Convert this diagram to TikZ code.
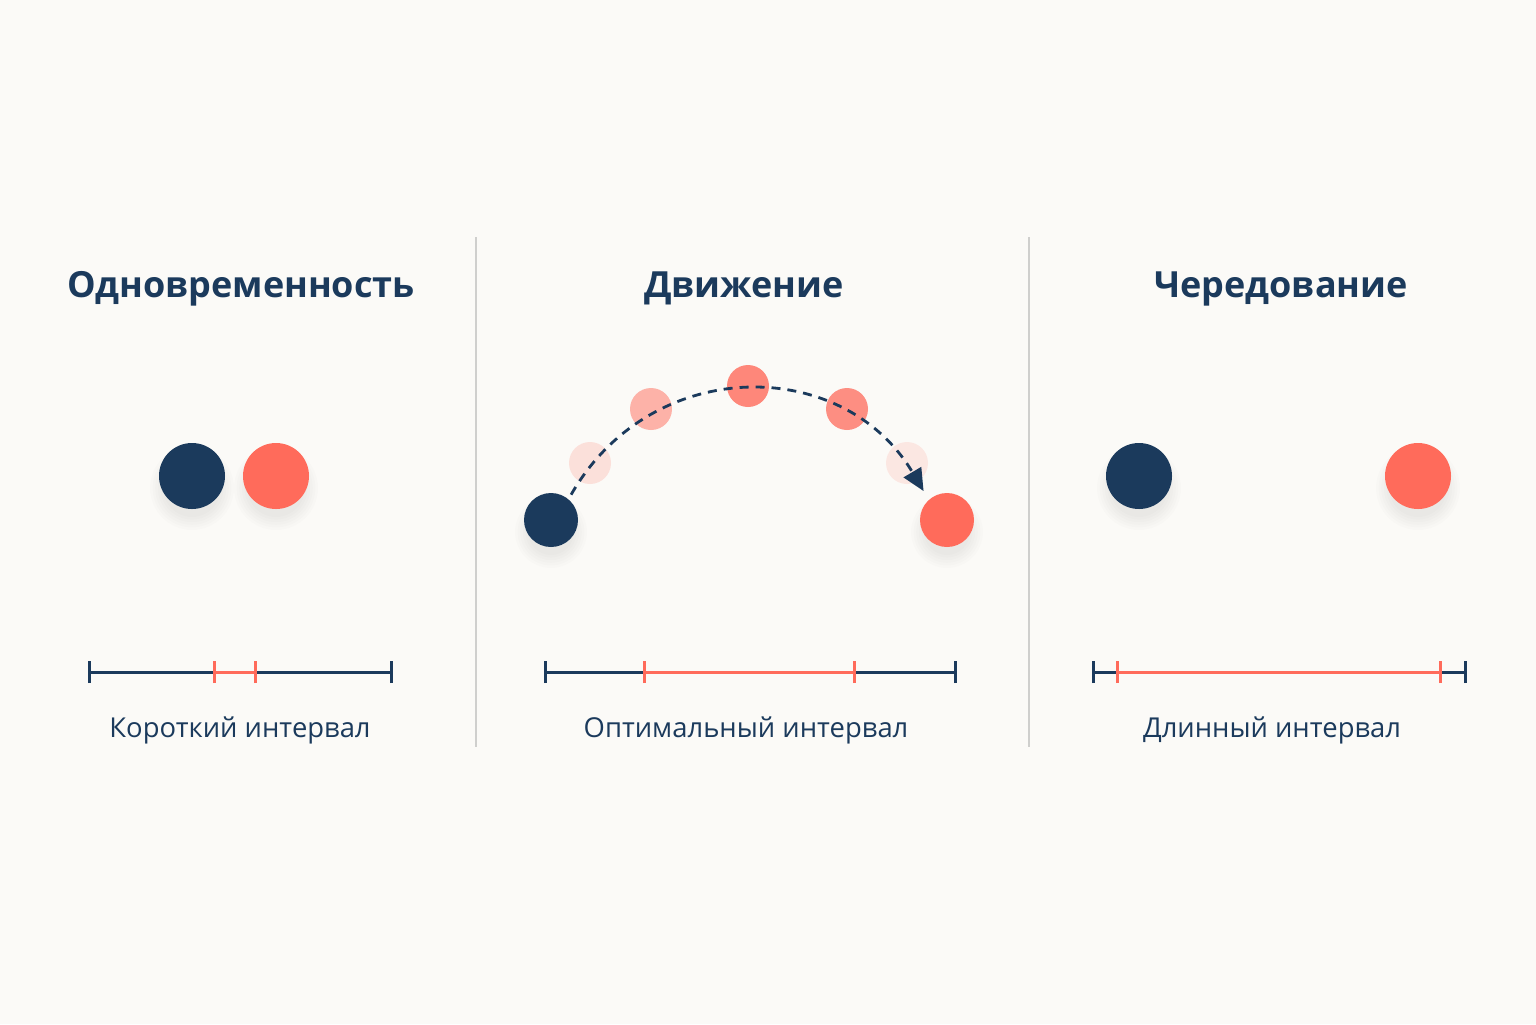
\documentclass[tikz,border=0pt]{standalone}
\usepackage{fontspec}
\setmainfont{Open Sans}
\usetikzlibrary{arrows.meta}
\definecolor{navy}{HTML}{1B3A5C}
\definecolor{coral}{HTML}{FF6B5B}
\definecolor{paper}{HTML}{FBFAF7}
\definecolor{rule}{HTML}{CFCFCD}
\begin{document}
\begin{tikzpicture}[x=0.5pt,y=-0.5pt,
	title/.style={anchor=base,text=navy,font=\fontsize{18}{22}\selectfont\bfseries},
	caption/.style={anchor=base,text=navy,font=\fontsize{13.7}{17}\selectfont},
	dot/.style={circle,inner sep=0pt,minimum size=#1},
	ghost/.style={dot=21pt,fill=coral,fill opacity=#1},
	tick/.style={line width=1.5pt}]
	\fill[paper] (0,0) rectangle (1536,1024);
	\useasboundingbox (0,0) rectangle (1536,1024);
	
	% soft shadows under the solid dots
	\foreach \cx/\cy/\r in {192/476/16.5, 276/476/16.5, 551/520/13.5, 947/520/13.5, 1139/476/16.5, 1418/476/16.5}
		\foreach \i in {0,...,5}
			\fill[black,opacity=0.012] (\cx,\cy+12) circle ({\r*1pt-2pt+\i*1.3pt});
	
	% separators
	\draw[rule,line width=1pt] (476,237)--(476,747);
	\draw[rule,line width=1pt] (1029,237)--(1029,747);
	
	% titles
	\node[title] (t1) at (241,297) {Одновременность};
	\node[title] (t2) at (744,297) {Движение};
	\node[title] (t3) at (1281,297) {Чередование};
	
	% left panel
	\node[dot=33pt,fill=navy] (a1) at (192,476) {};
	\node[dot=33pt,fill=coral] (b1) at (276,476) {};
	
	% middle panel
	\node[ghost=0.18] (g1) at (590,463) {};
	\node[ghost=0.5] (g2) at (651,409) {};
	\node[ghost=0.8] (g3) at (748,386) {};
	\node[ghost=0.75] (g4) at (847,409) {};
	\node[ghost=0.13] (g5) at (907,463) {};
	\node[dot=27pt,fill=navy] (a2) at (551,520) {};
	\node[dot=27pt,fill=coral] (b2) at (947,520) {};
	\draw[navy,line width=1.4pt,dash pattern=on 4.5pt off 3.5pt,shorten <=2.5pt,shorten >=5pt,
		-{Triangle[length=11pt,width=10pt]}]
		(a2.50) .. controls (651,355) and (843,355) .. (b2.132);
	
	% right panel
	\node[dot=33pt,fill=navy] (a3) at (1139,476) {};
	\node[dot=33pt,fill=coral] (b3) at (1418,476) {};
	
	% timelines
	\foreach \n/\p/\q/\r/\s in {1/89/214/255/391, 2/545/644/854/955, 3/1093/1117/1440/1465}{
		\coordinate (s\n) at (\p,672);
		\coordinate (l\n) at (\q,672);
		\coordinate (h\n) at (\r,672);
		\coordinate (e\n) at (\s,672);
		\draw[navy,tick] (s\n)--(l\n) (h\n)--(e\n);
		\draw[coral,tick] (l\n)--(h\n);
		\draw[navy,tick] ([yshift=-5.5pt]s\n)--([yshift=5.5pt]s\n);
		\draw[navy,tick] ([yshift=-5.5pt]e\n)--([yshift=5.5pt]e\n);
		\draw[coral,tick] ([yshift=-5.5pt]l\n)--([yshift=5.5pt]l\n);
		\draw[coral,tick] ([yshift=-5.5pt]h\n)--([yshift=5.5pt]h\n);
	}
	
	\node[caption] (c1) at (240,737) {Короткий интервал};
	\node[caption] (c2) at (746,737) {Оптимальный интервал};
	\node[caption] (c3) at (1272,737) {Длинный интервал};
\end{tikzpicture}
\end{document}
